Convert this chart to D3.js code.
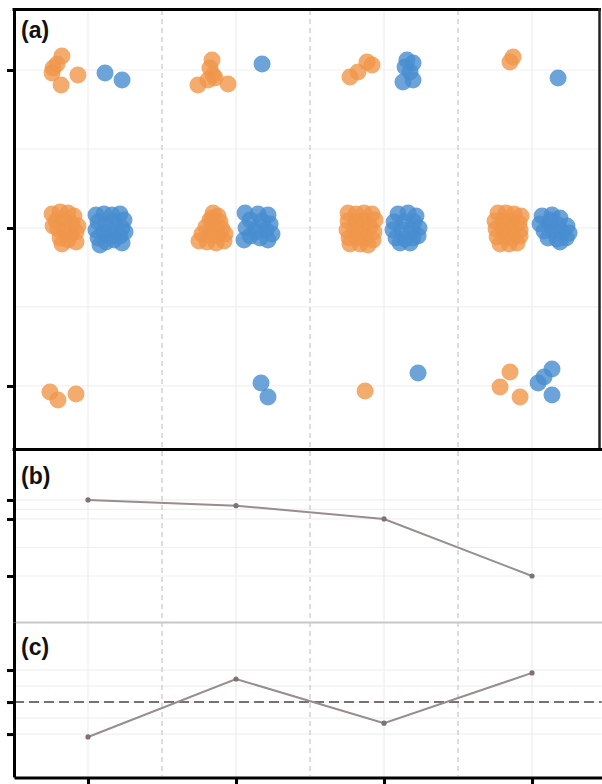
<!DOCTYPE html>
<html>
<head>
<meta charset="utf-8">
<script src="https://cdn.jsdelivr.net/npm/d3@7"></script>
<style>
  html, body { margin: 0; padding: 0; background: #fff; }
  svg { display: block; }
</style>
</head>
<body>
<div id="chart"></div>
<script>
// categories on the shared x axis (positions 0..3)
const categories = [0, 1, 2, 3];

// panel (a): jittered points, [x, level]
const orangePoints = [
  // level 3
  [-0.176, 3.089], [-0.236, 3.013], [-0.243, 2.981], [-0.182, 2.905], [-0.068, 2.968], [-0.209, 3.038],
  [0.838, 3.063], [0.824, 3.013], [0.845, 2.968], [0.743, 2.905], [0.946, 2.911], [0.858, 2.949], [0.811, 2.937],
  [1.770, 2.956], [1.824, 2.987], [1.885, 3.051], [1.919, 3.032],
  [2.872, 3.082], [2.851, 3.051],
  // level 2
  [-0.243, 2.089], [-0.189, 2.101], [-0.135, 2.095], [-0.095, 2.076], [-0.216, 2.044], [-0.162, 2.051],
  [-0.108, 2.025], [-0.203, 1.994], [-0.149, 1.987], [-0.081, 1.975], [-0.189, 1.937], [-0.135, 1.924],
  [-0.081, 1.911], [-0.176, 1.899], [-0.236, 2.013], [-0.122, 1.962], [-0.068, 2.013],
  [0.845, 2.095], [0.878, 2.076], [0.824, 2.051], [0.892, 2.038], [0.797, 2.006], [0.851, 2.000],
  [0.905, 1.994], [0.770, 1.962], [0.824, 1.956], [0.878, 1.949], [0.926, 1.962], [0.750, 1.918],
  [0.804, 1.911], [0.865, 1.905], [0.919, 1.918], [0.838, 2.063],
  [1.757, 2.095], [1.811, 2.089], [1.865, 2.095], [1.919, 2.089], [1.939, 2.051], [1.757, 2.044],
  [1.811, 2.038], [1.865, 2.044], [1.905, 2.006], [1.750, 1.987], [1.804, 1.987], [1.858, 1.994],
  [1.932, 1.975], [1.764, 1.937], [1.818, 1.937], [1.872, 1.937], [1.926, 1.924], [1.770, 1.899],
  [1.838, 1.899], [1.892, 1.892],
  [2.770, 2.095], [2.824, 2.095], [2.878, 2.089], [2.926, 2.076], [2.750, 2.044], [2.804, 2.044],
  [2.858, 2.044], [2.912, 2.032], [2.757, 1.994], [2.811, 1.987], [2.865, 1.994], [2.919, 1.987],
  [2.764, 1.943], [2.818, 1.943], [2.872, 1.937], [2.919, 1.949], [2.784, 1.899], [2.845, 1.899],
  [2.899, 1.905],
  // level 1
  [-0.257, 0.962], [-0.203, 0.911], [-0.081, 0.949],
  [1.872, 0.968],
  [2.851, 1.089], [2.784, 0.994], [2.919, 0.930]
];

const bluePoints = [
  // level 3
  [0.115, 2.981], [0.230, 2.937],
  [1.176, 3.038],
  [2.142, 3.019], [2.196, 3.044], [2.176, 2.987], [2.128, 2.924], [2.196, 2.937], [2.155, 3.063],
  [3.176, 2.949],
  // level 2
  [0.054, 2.082], [0.108, 2.089], [0.162, 2.082], [0.216, 2.089], [0.243, 2.051], [0.068, 2.038],
  [0.122, 2.025], [0.176, 2.038], [0.230, 2.000], [0.054, 1.987], [0.108, 1.975], [0.162, 1.981],
  [0.216, 1.949], [0.068, 1.937], [0.122, 1.911], [0.176, 1.924], [0.230, 1.905], [0.149, 1.949],
  [0.081, 1.892], [0.250, 1.975],
  [1.061, 2.095], [1.149, 2.089], [1.216, 2.082], [1.095, 2.051], [1.176, 2.044], [1.230, 2.025],
  [1.068, 2.000], [1.135, 1.994], [1.203, 1.987], [1.243, 1.962], [1.095, 1.949], [1.162, 1.937],
  [1.216, 1.924], [1.054, 1.924], [1.135, 1.975],
  [2.095, 2.089], [2.162, 2.095], [2.216, 2.076], [2.068, 2.038], [2.135, 2.038], [2.203, 2.038],
  [2.236, 2.000], [2.061, 1.987], [2.122, 1.987], [2.189, 1.987], [2.230, 1.949], [2.081, 1.937],
  [2.142, 1.930], [2.196, 1.937], [2.108, 1.905], [2.176, 1.905],
  [3.068, 2.076], [3.135, 2.082], [3.189, 2.063], [3.054, 2.025], [3.115, 2.032], [3.176, 2.019],
  [3.236, 2.013], [3.081, 1.981], [3.142, 1.981], [3.203, 1.975], [3.250, 1.968], [3.108, 1.937],
  [3.169, 1.930], [3.230, 1.937], [3.189, 1.911], [3.128, 2.051],
  // level 1
  [1.169, 1.019], [1.216, 0.930],
  [2.230, 1.082],
  [3.135, 1.108], [3.081, 1.057], [3.041, 1.019], [3.135, 0.943]
];
const levelTicks = [1, 2, 3];

// panel (b)
const bValues = [0.92, 0.89, 0.82, 0.52];
const bTicks = [0.92, 0.82, 0.52];

// panel (c)
const cValues = [-0.109, 0.072, -0.066, 0.091];
const cTicks = [-0.1, 0, 0.1];
const cReference = 0;

const panelLabels = ['(a)', '(b)', '(c)'];

const width = 602;
const height = 784;
const left = 14;
const right = 601.6;

const svg = d3.select('#chart')
  .append('svg')
  .attr('width', width)
  .attr('height', height);

const x = d3.scaleLinear().domain([-0.5, 3.47]).range([left, right]);

const yA = d3.scaleLinear().domain([0.601, 3.386]).range([449, 9]);
const yB = d3.scaleLinear().domain([0.278, 1.188]).range([622, 449]);
const yC = d3.scaleLinear().domain([-0.234, 0.25]).range([777, 622]);

// faint grid
function drawGrid(y, ticks) {
  const [y0, y1] = y.range();
  const minor = [];
  for (let i = 0; i < ticks.length - 1; i++) minor.push((ticks[i] + ticks[i + 1]) / 2);
  svg.append('g')
    .selectAll('line')
    .data(ticks.concat(minor))
    .enter()
    .append('line')
    .attr('x1', left).attr('x2', right)
    .attr('y1', d => y(d)).attr('y2', d => y(d))
    .attr('stroke', '#f0f0f2')
    .attr('stroke-width', 1.2);
  svg.append('g')
    .selectAll('line')
    .data(categories)
    .enter()
    .append('line')
    .attr('x1', d => x(d)).attr('x2', d => x(d))
    .attr('y1', y1).attr('y2', y0)
    .attr('stroke', '#eeeef2')
    .attr('stroke-width', 1.2);
}
drawGrid(yA, levelTicks);
drawGrid(yB, bTicks);
drawGrid(yC, cTicks);

// dashed separators between categories
svg.append('g')
  .selectAll('line')
  .data(categories.slice(1))
  .enter()
  .append('line')
  .attr('x1', d => x(d - 0.5)).attr('x2', d => x(d - 0.5))
  .attr('y1', 10).attr('y2', 776)
  .attr('stroke', '#cdc4c4')
  .attr('stroke-width', 1.2)
  .attr('stroke-dasharray', '5,4');

// panel (a) points
function drawPoints(data, color) {
  svg.append('g')
    .selectAll('circle')
    .data(data)
    .enter()
    .append('circle')
    .attr('cx', d => x(d[0]))
    .attr('cy', d => yA(d[1]))
    .attr('r', 8.5)
    .attr('fill', color)
    .attr('fill-opacity', 0.8);
}
drawPoints(orangePoints, '#f0964a');
drawPoints(bluePoints, '#478dcf');

// panel (b) and (c) lines
function drawLine(values, y) {
  const line = d3.line()
    .x((d, i) => x(categories[i]))
    .y(d => y(d));
  svg.append('path')
    .datum(values)
    .attr('d', line)
    .attr('fill', 'none')
    .attr('stroke', '#978d8d')
    .attr('stroke-width', 2);
  svg.append('g')
    .selectAll('circle')
    .data(values)
    .enter()
    .append('circle')
    .attr('cx', (d, i) => x(categories[i]))
    .attr('cy', d => y(d))
    .attr('r', 2.6)
    .attr('fill', '#7e7272');
}
drawLine(bValues, yB);

svg.append('line')
  .attr('x1', left).attr('x2', right)
  .attr('y1', yC(cReference)).attr('y2', yC(cReference))
  .attr('stroke', '#7a7070')
  .attr('stroke-width', 2)
  .attr('stroke-dasharray', '10,5');
drawLine(cValues, yC);

// frames
svg.append('line')
  .attr('x1', left - 1.5).attr('x2', 601)
  .attr('y1', 9.5).attr('y2', 9.5)
  .attr('stroke', '#000').attr('stroke-width', 3);
svg.append('line')
  .attr('x1', 599.5).attr('x2', 599.5)
  .attr('y1', 8).attr('y2', 449)
  .attr('stroke', '#222').attr('stroke-width', 2.5);
svg.append('line')
  .attr('x1', left - 1.5).attr('x2', width)
  .attr('y1', 449.5).attr('y2', 449.5)
  .attr('stroke', '#000').attr('stroke-width', 3);
svg.append('line')
  .attr('x1', left).attr('x2', width)
  .attr('y1', 622.5).attr('y2', 622.5)
  .attr('stroke', '#c9c6c6').attr('stroke-width', 2);

// axes
function styleAxis(g) {
  g.select('.domain').attr('stroke', '#000').attr('stroke-width', 3);
  g.selectAll('.tick line').attr('stroke', '#000').attr('stroke-width', 3);
}
[[yA, levelTicks], [yB, bTicks], [yC, cTicks]].forEach(([y, ticks]) => {
  svg.append('g')
    .attr('transform', 'translate(' + left + ',0)')
    .call(d3.axisLeft(y).tickValues(ticks).tickSize(7).tickSizeOuter(0).tickFormat(''))
    .call(styleAxis);
});

svg.append('g')
  .attr('transform', 'translate(0,' + 777.5 + ')')
  .call(d3.axisBottom(x).tickValues(categories).tickSize(8).tickSizeOuter(0).tickFormat(''))
  .call(styleAxis);

// panel labels
svg.selectAll('text.label')
  .data(panelLabels)
  .enter()
  .append('text')
  .attr('class', 'label')
  .attr('x', 21)
  .attr('y', (d, i) => [38, 484, 655][i])
  .attr('font-family', '"Liberation Sans", Arial, sans-serif')
  .attr('font-weight', 'bold')
  .attr('font-size', 23)
  .attr('fill', '#111')
  .text(d => d);
</script>
</body>
</html>
